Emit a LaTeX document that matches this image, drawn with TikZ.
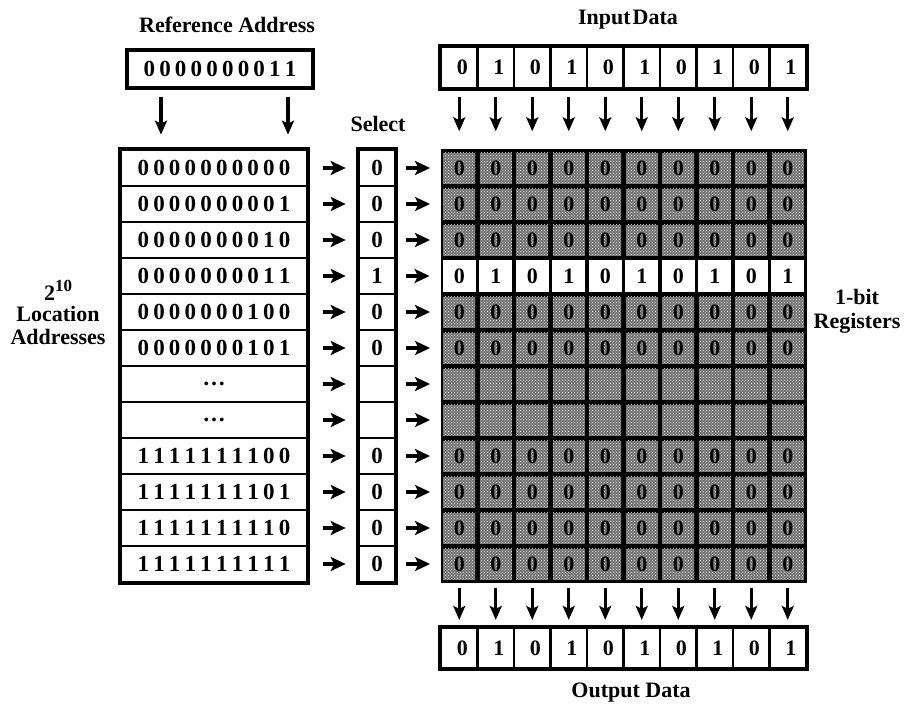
\documentclass[tikz,border=0pt]{standalone}
\usepackage{fontspec}
\setmainfont{Liberation Serif}
\usetikzlibrary{arrows.meta,patterns}

% letter-spaced digit strings
\newcommand\spaced[1]{\spcA#1\relax}
\def\spcA#1{#1\spcB}
\def\spcB#1{\ifx#1\relax\else\kern4.2pt#1\expandafter\spcB\fi}
\newcommand\lblfont{\fontsize{22}{23}\selectfont\bfseries}
\newcommand\digfont{\fontsize{23}{23}\selectfont\bfseries}
\newcommand\bitfont{\fontsize{22}{22}\selectfont\bfseries}

\begin{document}
\begin{tikzpicture}[x=1pt,y=1pt,
  addr/.style={draw, line width=2.6pt, minimum width=186pt, minimum height=36pt, inner sep=0pt, font=\digfont},
  selcell/.style={draw, line width=2.6pt, minimum width=36pt, minimum height=36pt, inner sep=0pt, font=\digfont},
  regoff/.style={minimum width=32pt, minimum height=31pt, inner sep=0pt,
    preaction={fill=black!55}, pattern=crosshatch dots, pattern color=black!10,
    text=black, font=\bitfont},
  regon/.style={fill=white, minimum width=33pt, minimum height=32pt, inner sep=0pt, font=\bitfont},
  bitcell/.style={draw, line width=2.2pt, minimum width=36.5pt, inner sep=0pt, font=\bitfont},
  harr/.style={line width=3.8pt, -{Stealth[length=15pt,width=14pt,inset=3.5pt]}},
  varr/.style={line width=3.2pt, -{Stealth[length=14pt,width=12pt,inset=3pt]}},
  lbl/.style={font=\lblfont, inner sep=0pt}
]
\useasboundingbox (0,0) rectangle (904,-709);

% titles
\node[lbl] (reflbl) at (227,-25) {Reference\ Address};
\node[lbl] (inlbl)  at (628,-20) {Input\hspace{2pt}Data};
\node[lbl] (sellbl) at (378,-124) {Select};
\node[lbl] (outlbl) at (631,-693) {Output Data};
\node[lbl, align=center] (loclbl) at (58,-312)
  {2\raisebox{9pt}{\fontsize{17}{17}\selectfont 10}\\[-2pt]Location\\Addresses};
\node[lbl, align=center] (reglbl) at (857,-311) {1-bit\\[1pt]Registers};

% reference address
\node[draw, line width=3.4pt, minimum width=186pt, minimum height=38pt, inner sep=0pt, font=\digfont]
  (ref) at (220,-69) {\spaced{0000000011}};

% address column, select column
\foreach \adr/\sv [count=\i] in {0000000000/0,0000000001/0,0000000010/0,0000000011/1,
    0000000100/0,0000000101/0,\dots/{},\dots/{},1111111100/0,1111111101/0,1111111110/0,1111111111/0} {
  \node[addr] (a\i) at (214,-150-36*\i+18) {\expandafter\spaced\expandafter{\adr}};
  \node[selcell] (s\i) at (377,-150-36*\i+18) {\sv};
}
\draw[line width=3.6pt] (a1.north west) rectangle (a12.south east);
\draw[line width=3.6pt] (s1.north west) rectangle (s12.south east);

% register array
\node[fill=black, minimum width=366pt, minimum height=434pt, inner sep=0pt] (grid) at (623.5,-366) {};
\foreach \r in {1,...,12} {
  \foreach \c in {1,...,10} {
    \pgfmathsetmacro\cx{441+36.5*(\c-0.5)}
    \pgfmathsetmacro\cy{-150-36*(\r-0.5)}
    \ifnum\r=4
      \pgfmathtruncatemacro\bv{1-mod(\c,2)}
      \node[regon] (g-\r-\c) at (\cx,\cy) {\bv};
    \else
      \ifnum\r=7
        \node[regoff] (g-\r-\c) at (\cx,\cy) {};
      \else\ifnum\r=8
        \node[regoff] (g-\r-\c) at (\cx,\cy) {};
      \else
        \node[regoff] (g-\r-\c) at (\cx,\cy) {0};
      \fi\fi
    \fi
  }
}

% input and output data words
\foreach \c in {1,...,10} {
  \pgfmathsetmacro\cx{441+36.5*(\c-0.5)}
  \pgfmathtruncatemacro\bv{1-mod(\c,2)}
  \node[bitcell, minimum height=41pt] (in\c) at (\cx,-67.5) {\hspace{6pt}\bv};
  \node[bitcell, minimum height=40pt] (out\c) at (\cx,-648) {\hspace{6pt}\bv};
}
\draw[line width=3.4pt] (in1.north west) rectangle (in10.south east);
\draw[line width=3.4pt] (out1.north west) rectangle (out10.south east);

% connectors
\draw[varr, shorten <=7pt, shorten >=14pt] ([xshift=-59pt]ref.south) -- ([xshift=-53pt]a1.north);
\draw[varr, shorten <=7pt, shorten >=14pt] ([xshift=68pt]ref.south) -- ([xshift=74pt]a1.north);
\foreach \i in {1,...,12} {
  \draw[harr, shorten <=15pt, shorten >=12pt] (a\i.east) -- (s\i.west);
  \draw[harr, shorten <=10pt, shorten >=13pt] (s\i.east) -- (g-\i-1.west);
}
\foreach \c in {1,...,10} {
  \draw[varr, shorten <=8pt, shorten >=21pt] (in\c.south) -- (g-1-\c.north);
  \draw[varr, shorten <=8pt, shorten >=7pt] (g-12-\c.south) -- (out\c.north);
}
\end{tikzpicture}
\end{document}
